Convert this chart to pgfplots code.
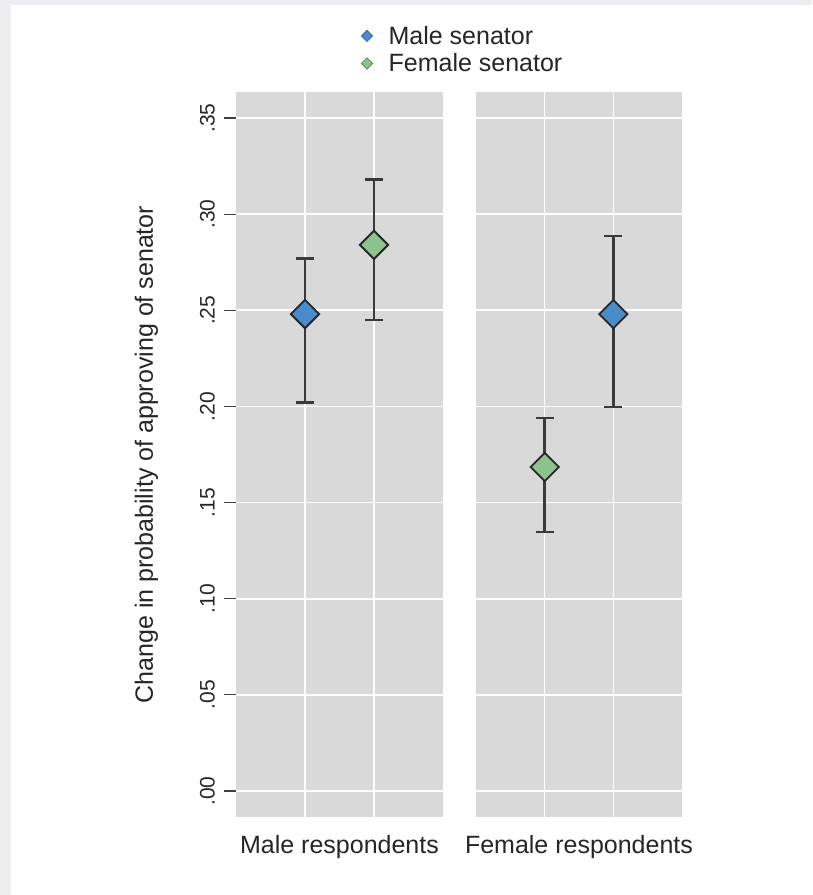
\documentclass[border=0pt]{standalone}
\usepackage{fontspec}
\setmainfont{Liberation Sans}
\usepackage{pgfplots}
\pgfplotsset{compat=1.18}
\definecolor{panel}{HTML}{D9D9D9}
\definecolor{mblue}{HTML}{4A8BC9}
\definecolor{fgreen}{HTML}{8CC38C}
\definecolor{ebar}{HTML}{3A3A3A}
\definecolor{frame}{HTML}{EEEEF2}
\pgfplotsset{panelstyle/.style={
  scale only axis, height=725pt, anchor=south west,
  xmin=0, xmax=3, ymin=-0.0135, ymax=0.3635,
  axis background/.style={fill=panel},
  axis line style={draw=none},
  xtick={1,2}, xticklabels={}, xtick style={draw=none},
  ytick={0,0.05,0.1,0.15,0.2,0.25,0.3,0.35},
  grid=major, major grid style={white, line width=1.6pt},
  clip=false,
  xlabel style={at={(axis description cs:0.5,-0.021)}, anchor=north, font=\fontsize{25}{30}\selectfont, text=black!85},
},
ptstyle/.style={only marks, mark=square*, mark size=10pt,
  mark options={rotate=45, line width=1.8pt, draw=black!85, fill=#1},
  error bars/y dir=both, error bars/y explicit,
  error bars/error bar style={line width=2.4pt, color=ebar},
  error bars/error mark options={rotate=90, line width=2.4pt, color=ebar, mark size=9pt}},
}
\begin{document}
\begin{tikzpicture}
\fill[frame] (0,0) rectangle (812pt,895pt);
\fill[white] (11pt,0) rectangle (812pt,890pt);
\begin{axis}[panelstyle, at={(236pt,78pt)}, width=207pt,
  ytick pos=left, tick align=outside, major tick length=12pt,
  ytick style={draw=black!75, line width=1.2pt},
  yticklabels={.00,.05,.10,.15,.20,.25,.30,.35},
  yticklabel style={rotate=90, anchor=south, inner ysep=9pt, font=\fontsize{21}{24}\selectfont, text=black!85},
  xlabel={Male respondents},
  ylabel={Change in probability of approving of senator},
  ylabel style={at={(axis description cs:-0.36,0.5)}, anchor=south, font=\fontsize{25}{30}\selectfont, text=black!85},
  legend style={at={(axis description cs:0.59,1.02)}, anchor=south west, draw=none, fill=none,
    font=\fontsize{25}{30}\selectfont, text=black!85, row sep=4pt,
    /tikz/every odd column/.append style={column sep=14pt}},
  legend cell align=left]
\addlegendimage{only marks, mark=square*, mark size=4pt, mark options={rotate=45, fill=mblue, draw=mblue!60!black, line width=0.6pt}}
\addlegendentry{Male senator}
\addlegendimage{only marks, mark=square*, mark size=4pt, mark options={rotate=45, fill=fgreen, draw=fgreen!60!black, line width=0.6pt}}
\addlegendentry{Female senator}
\addplot[ptstyle=mblue, forget plot] coordinates {(1,0.248) += (0,0.029) -= (0,0.046)};
\addplot[ptstyle=fgreen, forget plot] coordinates {(2,0.284) += (0,0.034) -= (0,0.039)};
\end{axis}
\begin{axis}[panelstyle, at={(476pt,78pt)}, width=206pt,
  yticklabels={}, ytick style={draw=none},
  xlabel={Female respondents}]
\addplot[ptstyle=fgreen] coordinates {(1,0.1685) += (0,0.0255) -= (0,0.0338)};
\addplot[ptstyle=mblue] coordinates {(2,0.248) += (0,0.0406) -= (0,0.0483)};
\end{axis}
\end{tikzpicture}
\end{document}
